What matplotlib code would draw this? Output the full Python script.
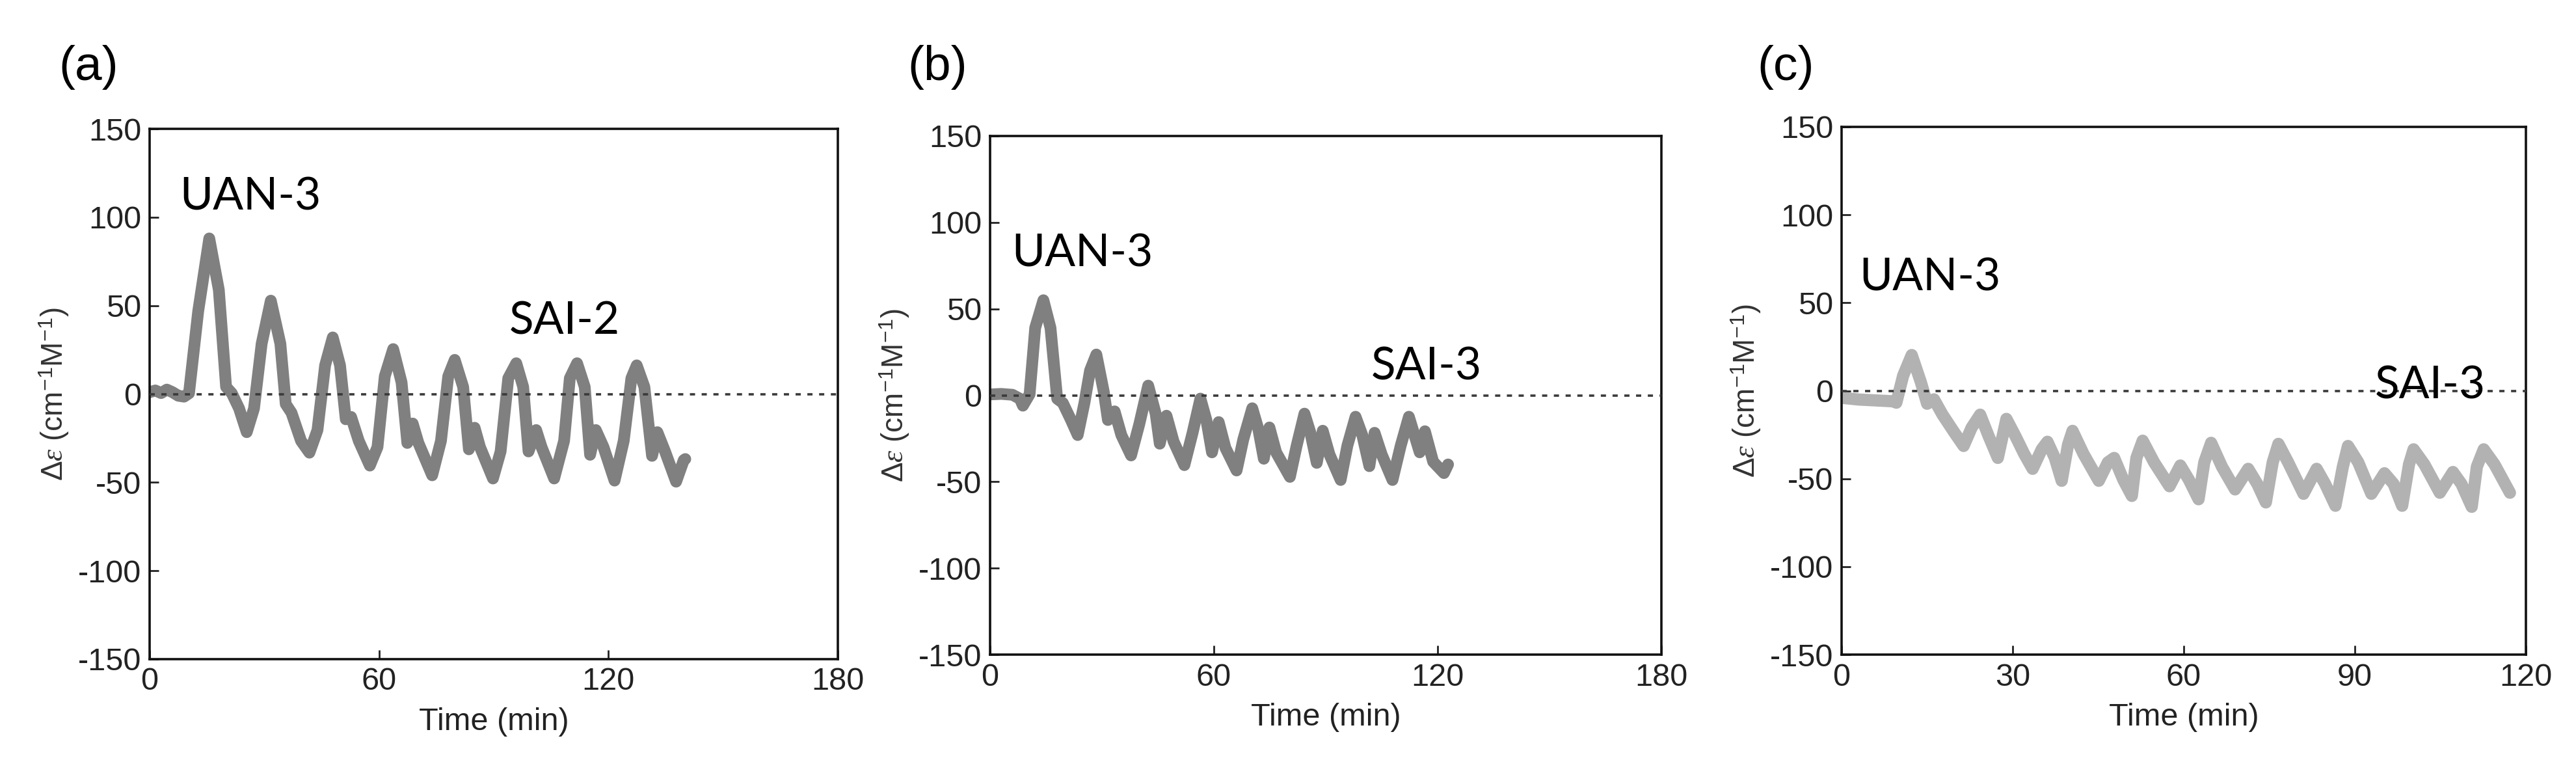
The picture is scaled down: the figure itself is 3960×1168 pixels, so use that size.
import matplotlib
matplotlib.use("Agg")
import matplotlib.pyplot as plt

plt.rcParams['font.family'] = ['Liberation Sans', 'DejaVu Sans']
plt.rcParams['mathtext.fontset'] = 'custom'
plt.rcParams['mathtext.rm'] = 'Liberation Sans'
plt.rcParams['mathtext.it'] = 'Liberation Serif:italic'
plt.rcParams['axes.unicode_minus'] = False

# panel (a): UAN-3 then SAI-2
t_a = [0, 1.5, 3, 4.5, 6, 7.5, 9, 10.3, 12.7, 15.6, 18.1, 20, 21.5, 23.4, 25.4, 27.3,
       29.3, 31.7, 34.2, 35.6, 37.1, 39.6, 41.8, 43.9, 45.9, 47.9, 49.8, 51.3, 52.7,
       54.7, 57.6, 59.6, 61.5, 63.7, 65.9, 67.4, 68.8, 70.3, 73.9, 76.2, 78.1, 79.8,
       82, 83.5, 85, 86.4, 89.8, 91.8, 93.8, 95.9, 97.7, 99.1, 101.1, 102.5, 105.8,
       108.4, 109.9, 111.8, 113.8, 115.2, 116.7, 118.7, 121.6, 124, 126, 127.4, 129.4,
       131.4, 132.8, 134.8, 137.7, 139.7, 140.1]
y_a = [1, 2, 0.5, 2.5, 1, -1, -1.5, 0.4, 46.7, 88, 58.9, 4, 0.4, -8.2, -21.6, -8.2,
       28.4, 52.8, 28.4, -5.7, -10.6, -26.5, -33.2, -20.4, 16.2, 32, 16.2, -14.3, -13,
       -26.5, -40.5, -30, 10, 25.4, 6.5, -27.7, -16.7, -27.7, -46, -26.5, 10, 19.3,
       4, -31.3, -19.1, -30, -47.8, -32.5, 8.9, 17.4, 4, -32.5, -20.4, -30, -47.8,
       -26.5, 8.9, 17.4, 4, -34.4, -20.4, -30, -49, -26.5, 8.9, 16.2, 4,
       -35, -21.6, -32.5, -49.6, -37.4, -36.8]

# panel (b): UAN-3 then SAI-3
t_b = [0, 3, 6, 8, 8.8, 10.6, 12.1, 14.3, 16.2, 18, 19.5, 21.7, 23.5, 25.3, 26.8, 28.5,
       30.5, 31.6, 33.4, 35.2, 37.8, 40, 42.4, 44.4, 45.5, 47.3, 49.2, 52.1, 54.3,
       56.4, 58, 59.5, 61.3, 63.1, 66.1, 67.9, 70.3, 71.9, 73.4, 74.9, 76.7, 80.4,
       82.2, 84.3, 85.9, 87.6, 89.2, 91, 94, 95.8, 98, 99.8, 101.7, 103.1, 105, 107.9,
       110.1, 112.3, 115.2, 116.6, 118.8, 121.7, 122.8]
y_b = [0.5, 0.8, 0.3, -2, -6, 0.6, 39, 55, 39, -2, -4.4, -14.3, -23, -4.4, 14.3, 23.6,
       1.9, -14.3, -9.3, -23, -34.8, -16.8, 5.6, -10.6, -28, -11.8, -26.7, -40.4, -21.7,
       -1.9, -14.3, -33, -15.5, -30.4, -43.5, -25.5, -7.5, -19.3, -36.7, -18.6, -33, -47.2,
       -29.2, -10.6, -21.7, -39.1, -20.5, -34.2, -49, -29.2, -12.4, -23, -41, -21.7, -34.2, -49,
       -29.2, -12.4, -33, -20.8, -38.4, -45, -40]

# panel (c): UAN-3 then SAI-3
t_c = [0, 3, 6, 9, 9.6, 10.8, 12.3, 13.9, 15, 16.2, 17.7, 19.7, 21.4, 22.8, 24.3, 25.8,
       27.4, 28.9, 30.5, 32, 33.5, 35.1, 36.1, 37.4, 38.6, 39.7, 40.5, 42.4, 45.1, 46.7,
       47.8, 49.4, 50.9, 51.7, 52.8, 54.8, 57.5, 59.4, 60.9, 62.6, 63.6, 64.8, 66.7, 69,
       71.3, 72.9, 74.4, 75.6, 76.6, 78.3, 81, 83.3, 84.8, 86.6, 87.9, 88.8, 90.6, 92.9,
       95.2, 96.8, 98.3, 99.5, 100.3, 102.2, 104.9, 107.2, 108.7, 110.5, 111.4, 112.6,
       114.5, 117.2]
y_c = [-4, -5, -5.5, -6, -6.8, 8.6, 20.3, 4.9, -7.4, -4.9, -13.6, -23.4, -31.4, -21, -13.6, -25.9,
       -38.2, -16, -25.9, -35.8, -44.4, -33.3, -29, -38.2, -51.2, -30.8, -22.8, -35.8, -51.2, -40.7,
       -38.2, -50.6, -59.8, -38.2, -28.4, -40.7, -54.3, -42.5, -50.6, -61.7, -40.7, -29.6, -43.2, -56.1,
       -44.4, -53, -63.5, -40.7, -30.2, -40.7, -58.6, -44.4, -53, -65.4, -43.2, -31.4, -40.7, -58.6,
       -46.9, -53, -65.4, -41.9, -33.3, -41.9, -58, -46.2, -53, -66, -43.2, -33.3,
       -41.9, -58]

panel_tags = ['(a)', '(b)', '(c)']
x_limits = [180, 180, 120]
x_ticks = [[0, 60, 120, 180], [0, 60, 120, 180], [0, 30, 60, 90, 120]]
y_ticks = [-150, -100, -50, 0, 50, 100, 150]
first_label = ['UAN-3', 'UAN-3', 'UAN-3']
second_label = ['SAI-2', 'SAI-3', 'SAI-3']
first_pos = [(7.8, 104), (5.8, 74.5), (3.1, 56.8)]
second_pos = [(94, 34), (102.2, 9.2), (93.5, -4.4)]

series = [(t_a, y_a), (t_b, y_b), (t_c, y_c)]
colors = ['#808080', '#808080', '#b2b2b2']
widths = [13, 13, 13.5]
boxes = [(230, 198, 1288, 1013), (1522, 209, 2554, 1006), (2831, 195, 3883, 1006)]
tag_x = [90, 1395, 2701]

W, H = 3960, 1168
fig = plt.figure(figsize=(W / 100, H / 100), dpi=100)

for i in range(3):
    x0, y0, x1, y1 = boxes[i]
    ax = fig.add_axes([x0 / W, 1 - y1 / H, (x1 - x0) / W, (y1 - y0) / H])
    t, y = series[i]
    ax.plot(t, y, color=colors[i], lw=widths[i], solid_joinstyle='round',
            solid_capstyle='round', zorder=2)
    ax.axhline(0, color='#3a3a3a', lw=2.6, ls=(0, (2.2, 2.8)), zorder=3)
    ax.set_xlim(0, x_limits[i])
    ax.set_ylim(-150, 150)
    ax.set_xticks(x_ticks[i])
    ax.set_yticks(y_ticks)
    ax.tick_params(direction='in', length=10, width=2, labelsize=35, pad=9,
                   colors='#222222', top=False, right=False)
    for s in ax.spines.values():
        s.set_linewidth(2.6)
        s.set_color('#111111')
    ax.set_xlabel('Time (min)', fontsize=35, labelpad=12, color='#222222')
    ax.set_ylabel(r'$\Delta\varepsilon$ (cm$^{-1}$M$^{-1}$)', fontsize=33, labelpad=8,
                  color='#333333')
    ax.text(*first_pos[i], first_label[i], fontsize=50, family=['Lato', 'DejaVu Sans'], zorder=4)
    ax.text(*second_pos[i], second_label[i], fontsize=50, family=['Lato', 'DejaVu Sans'], zorder=4)
    fig.text(tag_x[i] / W, 1 - 104 / H, panel_tags[i], fontsize=54, va='center', ha='left')

fig.savefig('out.png', dpi=100)
